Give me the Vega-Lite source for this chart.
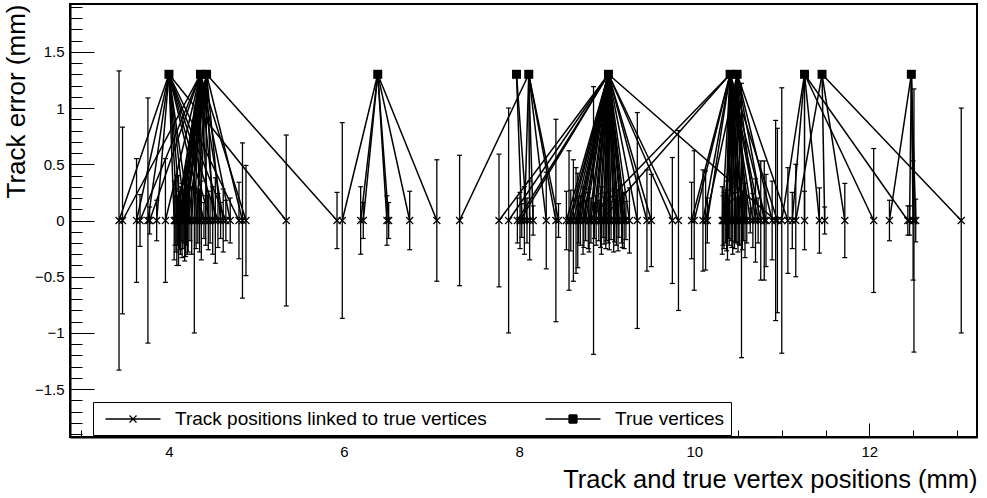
{
  "$schema": "https://vega.github.io/schema/vega-lite/v6.json",
  "width": 907,
  "height": 433,
  "autosize": "none",
  "padding": {"left": 70, "top": 4, "right": 10, "bottom": 61},
  "background": "white",
  "config": {
    "font": "Liberation Sans",
    "view": {"stroke": "black", "strokeWidth": 2},
    "axis": {"grid": false, "labelFont": "Liberation Sans", "titleFont": "Liberation Sans", "labelColor": "black", "titleColor": "black", "titleFontWeight": "normal", "tickColor": "black", "domainColor": "black"},
    "legend": {"labelFont": "Liberation Sans", "labelFontSize": 19, "labelColor": "black"}
  },
  "datasets": {
    "tracks": [
      {"x": 3.43, "lo": -1.33, "hi": 1.33, "v": 4.00, "y": 0, "vy": 1.3},
      {"x": 3.47, "lo": -0.83, "hi": 0.83, "v": 4.36, "y": 0, "vy": 1.3},
      {"x": 3.63, "lo": -0.55, "hi": 0.55, "v": 4.00, "y": 0, "vy": 1.3},
      {"x": 3.67, "lo": -0.23, "hi": 0.23, "v": 4.36, "y": 0, "vy": 1.3},
      {"x": 3.76, "lo": -1.09, "hi": 1.09, "v": 4.00, "y": 0, "vy": 1.3},
      {"x": 3.78, "lo": -0.12, "hi": 0.12, "v": 4.36, "y": 0, "vy": 1.3},
      {"x": 3.86, "lo": -0.18, "hi": 0.18, "v": 4.00, "y": 0, "vy": 1.3},
      {"x": 3.96, "lo": -0.55, "hi": 0.55, "v": 4.36, "y": 0, "vy": 1.3},
      {"x": 4.06, "lo": -0.35, "hi": 0.35, "v": 4.00, "y": 0, "vy": 1.3},
      {"x": 4.07, "lo": -0.22, "hi": 0.22, "v": 4.43, "y": 0, "vy": 1.3},
      {"x": 4.08, "lo": -0.28, "hi": 0.28, "v": 4.36, "y": 0, "vy": 1.3},
      {"x": 4.09, "lo": -0.40, "hi": 0.40, "v": 4.36, "y": 0, "vy": 1.3},
      {"x": 4.10, "lo": -0.22, "hi": 0.22, "v": 4.00, "y": 0, "vy": 1.3},
      {"x": 4.11, "lo": -0.40, "hi": 0.40, "v": 4.43, "y": 0, "vy": 1.3},
      {"x": 4.12, "lo": -0.26, "hi": 0.26, "v": 4.36, "y": 0, "vy": 1.3},
      {"x": 4.13, "lo": -0.30, "hi": 0.30, "v": 4.36, "y": 0, "vy": 1.3},
      {"x": 4.14, "lo": -0.18, "hi": 0.18, "v": 4.00, "y": 0, "vy": 1.3},
      {"x": 4.15, "lo": -0.33, "hi": 0.33, "v": 4.36, "y": 0, "vy": 1.3},
      {"x": 4.16, "lo": -0.25, "hi": 0.25, "v": 4.43, "y": 0, "vy": 1.3},
      {"x": 4.17, "lo": -0.20, "hi": 0.20, "v": 4.36, "y": 0, "vy": 1.3},
      {"x": 4.18, "lo": -0.36, "hi": 0.36, "v": 4.43, "y": 0, "vy": 1.3},
      {"x": 4.19, "lo": -0.32, "hi": 0.32, "v": 4.00, "y": 0, "vy": 1.3},
      {"x": 4.20, "lo": -0.22, "hi": 0.22, "v": 4.36, "y": 0, "vy": 1.3},
      {"x": 4.21, "lo": -0.30, "hi": 0.30, "v": 4.36, "y": 0, "vy": 1.3},
      {"x": 4.22, "lo": -0.28, "hi": 0.28, "v": 4.43, "y": 0, "vy": 1.3},
      {"x": 4.24, "lo": -0.18, "hi": 0.18, "v": 4.00, "y": 0, "vy": 1.3},
      {"x": 4.26, "lo": -0.30, "hi": 0.30, "v": 4.36, "y": 0, "vy": 1.3},
      {"x": 4.29, "lo": -1.00, "hi": 1.00, "v": 4.36, "y": 0, "vy": 1.3},
      {"x": 4.31, "lo": -0.25, "hi": 0.25, "v": 4.43, "y": 0, "vy": 1.3},
      {"x": 4.33, "lo": -0.20, "hi": 0.20, "v": 4.36, "y": 0, "vy": 1.3},
      {"x": 4.35, "lo": -0.28, "hi": 0.28, "v": 4.43, "y": 0, "vy": 1.3},
      {"x": 4.37, "lo": -0.35, "hi": 0.35, "v": 4.36, "y": 0, "vy": 1.3},
      {"x": 4.40, "lo": -0.16, "hi": 0.16, "v": 4.00, "y": 0, "vy": 1.3},
      {"x": 4.42, "lo": -0.22, "hi": 0.22, "v": 4.43, "y": 0, "vy": 1.3},
      {"x": 4.45, "lo": -0.26, "hi": 0.26, "v": 4.36, "y": 0, "vy": 1.3},
      {"x": 4.47, "lo": -0.20, "hi": 0.20, "v": 4.00, "y": 0, "vy": 1.3},
      {"x": 4.50, "lo": -0.30, "hi": 0.30, "v": 4.43, "y": 0, "vy": 1.3},
      {"x": 4.53, "lo": -0.38, "hi": 0.38, "v": 4.36, "y": 0, "vy": 1.3},
      {"x": 4.56, "lo": -0.24, "hi": 0.24, "v": 4.00, "y": 0, "vy": 1.3},
      {"x": 4.59, "lo": -0.16, "hi": 0.16, "v": 4.43, "y": 0, "vy": 1.3},
      {"x": 4.62, "lo": -0.28, "hi": 0.28, "v": 4.36, "y": 0, "vy": 1.3},
      {"x": 4.65, "lo": -0.18, "hi": 0.18, "v": 4.00, "y": 0, "vy": 1.3},
      {"x": 4.70, "lo": -0.20, "hi": 0.20, "v": 4.36, "y": 0, "vy": 1.3},
      {"x": 4.80, "lo": -0.34, "hi": 0.34, "v": 4.00, "y": 0, "vy": 1.3},
      {"x": 4.84, "lo": -0.69, "hi": 0.69, "v": 4.43, "y": 0, "vy": 1.3},
      {"x": 4.88, "lo": -0.49, "hi": 0.49, "v": 4.36, "y": 0, "vy": 1.3},
      {"x": 5.34, "lo": -0.76, "hi": 0.76, "v": 4.00, "y": 0, "vy": 1.3},
      {"x": 5.92, "lo": -0.25, "hi": 0.25, "v": 4.43, "y": 0, "vy": 1.3},
      {"x": 5.98, "lo": -0.87, "hi": 0.87, "v": 6.385, "y": 0, "vy": 1.3},
      {"x": 6.19, "lo": -0.30, "hi": 0.30, "v": 6.385, "y": 0, "vy": 1.3},
      {"x": 6.22, "lo": -0.16, "hi": 0.16, "v": 6.385, "y": 0, "vy": 1.3},
      {"x": 6.49, "lo": -0.22, "hi": 0.22, "v": 6.385, "y": 0, "vy": 1.3},
      {"x": 6.51, "lo": -0.16, "hi": 0.16, "v": 6.385, "y": 0, "vy": 1.3},
      {"x": 6.75, "lo": -0.26, "hi": 0.26, "v": 6.385, "y": 0, "vy": 1.3},
      {"x": 7.06, "lo": -0.54, "hi": 0.54, "v": 6.385, "y": 0, "vy": 1.3},
      {"x": 7.32, "lo": -0.58, "hi": 0.58, "v": 8.11, "y": 0, "vy": 1.3},
      {"x": 7.77, "lo": -0.59, "hi": 0.59, "v": 9.02, "y": 0, "vy": 1.3},
      {"x": 7.88, "lo": -1.00, "hi": 1.00, "v": 9.02, "y": 0, "vy": 1.3},
      {"x": 7.98, "lo": -0.20, "hi": 0.20, "v": 9.02, "y": 0, "vy": 1.3},
      {"x": 8.01, "lo": -0.25, "hi": 0.25, "v": 9.02, "y": 0, "vy": 1.3},
      {"x": 8.03, "lo": -0.15, "hi": 0.15, "v": 7.97, "y": 0, "vy": 1.3},
      {"x": 8.06, "lo": -0.30, "hi": 0.30, "v": 8.11, "y": 0, "vy": 1.3},
      {"x": 8.09, "lo": -0.20, "hi": 0.20, "v": 7.97, "y": 0, "vy": 1.3},
      {"x": 8.12, "lo": -0.35, "hi": 0.35, "v": 8.11, "y": 0, "vy": 1.3},
      {"x": 8.16, "lo": -0.13, "hi": 0.13, "v": 8.11, "y": 0, "vy": 1.3},
      {"x": 8.31, "lo": -0.43, "hi": 0.43, "v": 8.11, "y": 0, "vy": 1.3},
      {"x": 8.42, "lo": -0.90, "hi": 0.90, "v": 8.11, "y": 0, "vy": 1.3},
      {"x": 8.45, "lo": -0.15, "hi": 0.15, "v": 8.11, "y": 0, "vy": 1.3},
      {"x": 8.54, "lo": -0.26, "hi": 0.26, "v": 9.02, "y": 0, "vy": 1.3},
      {"x": 8.57, "lo": -0.62, "hi": 0.62, "v": 9.02, "y": 0, "vy": 1.3},
      {"x": 8.59, "lo": -0.27, "hi": 0.27, "v": 9.02, "y": 0, "vy": 1.3},
      {"x": 8.62, "lo": -0.54, "hi": 0.54, "v": 9.02, "y": 0, "vy": 1.3},
      {"x": 8.65, "lo": -0.47, "hi": 0.47, "v": 9.02, "y": 0, "vy": 1.3},
      {"x": 8.67, "lo": -0.42, "hi": 0.42, "v": 9.02, "y": 0, "vy": 1.3},
      {"x": 8.68, "lo": -0.20, "hi": 0.20, "v": 9.02, "y": 0, "vy": 1.3},
      {"x": 8.70, "lo": -0.22, "hi": 0.22, "v": 9.02, "y": 0, "vy": 1.3},
      {"x": 8.73, "lo": -0.30, "hi": 0.30, "v": 9.02, "y": 0, "vy": 1.3},
      {"x": 8.74, "lo": -0.24, "hi": 0.24, "v": 9.02, "y": 0, "vy": 1.3},
      {"x": 8.76, "lo": -0.18, "hi": 0.18, "v": 9.02, "y": 0, "vy": 1.3},
      {"x": 8.79, "lo": -0.25, "hi": 0.25, "v": 10.41, "y": 0, "vy": 1.3},
      {"x": 8.80, "lo": -0.28, "hi": 0.28, "v": 9.02, "y": 0, "vy": 1.3},
      {"x": 8.82, "lo": -0.20, "hi": 0.20, "v": 9.02, "y": 0, "vy": 1.3},
      {"x": 8.85, "lo": -1.19, "hi": 1.19, "v": 9.02, "y": 0, "vy": 1.3},
      {"x": 8.86, "lo": -0.16, "hi": 0.16, "v": 9.02, "y": 0, "vy": 1.3},
      {"x": 8.88, "lo": -0.22, "hi": 0.22, "v": 9.02, "y": 0, "vy": 1.3},
      {"x": 8.91, "lo": -0.18, "hi": 0.18, "v": 9.02, "y": 0, "vy": 1.3},
      {"x": 8.93, "lo": -0.24, "hi": 0.24, "v": 9.02, "y": 0, "vy": 1.3},
      {"x": 8.94, "lo": -0.30, "hi": 0.30, "v": 10.41, "y": 0, "vy": 1.3},
      {"x": 8.96, "lo": -0.15, "hi": 0.15, "v": 9.02, "y": 0, "vy": 1.3},
      {"x": 8.97, "lo": -0.21, "hi": 0.21, "v": 9.02, "y": 0, "vy": 1.3},
      {"x": 8.99, "lo": -0.25, "hi": 0.25, "v": 9.02, "y": 0, "vy": 1.3},
      {"x": 9.00, "lo": -0.18, "hi": 0.18, "v": 9.02, "y": 0, "vy": 1.3},
      {"x": 9.02, "lo": -0.20, "hi": 0.20, "v": 9.02, "y": 0, "vy": 1.3},
      {"x": 9.03, "lo": -0.26, "hi": 0.26, "v": 9.02, "y": 0, "vy": 1.3},
      {"x": 9.05, "lo": -0.17, "hi": 0.17, "v": 9.02, "y": 0, "vy": 1.3},
      {"x": 9.08, "lo": -0.28, "hi": 0.28, "v": 9.02, "y": 0, "vy": 1.3},
      {"x": 9.09, "lo": -0.19, "hi": 0.19, "v": 9.02, "y": 0, "vy": 1.3},
      {"x": 9.11, "lo": -0.22, "hi": 0.22, "v": 9.02, "y": 0, "vy": 1.3},
      {"x": 9.13, "lo": -0.27, "hi": 0.27, "v": 9.02, "y": 0, "vy": 1.3},
      {"x": 9.14, "lo": -0.15, "hi": 0.15, "v": 9.02, "y": 0, "vy": 1.3},
      {"x": 9.17, "lo": -0.20, "hi": 0.20, "v": 9.02, "y": 0, "vy": 1.3},
      {"x": 9.18, "lo": -0.24, "hi": 0.24, "v": 9.02, "y": 0, "vy": 1.3},
      {"x": 9.20, "lo": -0.25, "hi": 0.25, "v": 9.02, "y": 0, "vy": 1.3},
      {"x": 9.22, "lo": -0.17, "hi": 0.17, "v": 9.02, "y": 0, "vy": 1.3},
      {"x": 9.26, "lo": -0.29, "hi": 0.29, "v": 9.02, "y": 0, "vy": 1.3},
      {"x": 9.35, "lo": -0.96, "hi": 0.96, "v": 9.02, "y": 0, "vy": 1.3},
      {"x": 9.46, "lo": -0.45, "hi": 0.45, "v": 9.02, "y": 0, "vy": 1.3},
      {"x": 9.51, "lo": -0.41, "hi": 0.41, "v": 9.02, "y": 0, "vy": 1.3},
      {"x": 9.75, "lo": -0.56, "hi": 0.56, "v": 9.02, "y": 0, "vy": 1.3},
      {"x": 9.82, "lo": -0.80, "hi": 0.80, "v": 9.02, "y": 0, "vy": 1.3},
      {"x": 9.97, "lo": -0.34, "hi": 0.34, "v": 10.41, "y": 0, "vy": 1.3},
      {"x": 10.00, "lo": -0.62, "hi": 0.62, "v": 10.41, "y": 0, "vy": 1.3},
      {"x": 10.10, "lo": -0.45, "hi": 0.45, "v": 10.41, "y": 0, "vy": 1.3},
      {"x": 10.13, "lo": -0.44, "hi": 0.44, "v": 10.49, "y": 0, "vy": 1.3},
      {"x": 10.15, "lo": -0.20, "hi": 0.20, "v": 10.41, "y": 0, "vy": 1.3},
      {"x": 10.32, "lo": -0.30, "hi": 0.30, "v": 10.41, "y": 0, "vy": 1.3},
      {"x": 10.33, "lo": -0.22, "hi": 0.22, "v": 10.49, "y": 0, "vy": 1.3},
      {"x": 10.34, "lo": -0.25, "hi": 0.25, "v": 10.49, "y": 0, "vy": 1.3},
      {"x": 10.36, "lo": -0.20, "hi": 0.20, "v": 10.41, "y": 0, "vy": 1.3},
      {"x": 10.37, "lo": -0.27, "hi": 0.27, "v": 10.41, "y": 0, "vy": 1.3},
      {"x": 10.38, "lo": -0.35, "hi": 0.35, "v": 10.49, "y": 0, "vy": 1.3},
      {"x": 10.39, "lo": -0.16, "hi": 0.16, "v": 10.49, "y": 0, "vy": 1.3},
      {"x": 10.40, "lo": -0.22, "hi": 0.22, "v": 10.41, "y": 0, "vy": 1.3},
      {"x": 10.42, "lo": -0.18, "hi": 0.18, "v": 10.49, "y": 0, "vy": 1.3},
      {"x": 10.43, "lo": -0.24, "hi": 0.24, "v": 10.41, "y": 0, "vy": 1.3},
      {"x": 10.44, "lo": -0.30, "hi": 0.30, "v": 10.41, "y": 0, "vy": 1.3},
      {"x": 10.46, "lo": -0.25, "hi": 0.25, "v": 10.49, "y": 0, "vy": 1.3},
      {"x": 10.47, "lo": -0.19, "hi": 0.19, "v": 10.41, "y": 0, "vy": 1.3},
      {"x": 10.48, "lo": -0.20, "hi": 0.20, "v": 10.41, "y": 0, "vy": 1.3},
      {"x": 10.50, "lo": -0.28, "hi": 0.28, "v": 10.49, "y": 0, "vy": 1.3},
      {"x": 10.51, "lo": -0.21, "hi": 0.21, "v": 10.41, "y": 0, "vy": 1.3},
      {"x": 10.52, "lo": -0.22, "hi": 0.22, "v": 10.41, "y": 0, "vy": 1.3},
      {"x": 10.54, "lo": -1.22, "hi": 1.22, "v": 10.49, "y": 0, "vy": 1.3},
      {"x": 10.55, "lo": -0.26, "hi": 0.26, "v": 10.41, "y": 0, "vy": 1.3},
      {"x": 10.56, "lo": -0.18, "hi": 0.18, "v": 10.41, "y": 0, "vy": 1.3},
      {"x": 10.58, "lo": -0.33, "hi": 0.33, "v": 10.49, "y": 0, "vy": 1.3},
      {"x": 10.60, "lo": -0.20, "hi": 0.20, "v": 10.49, "y": 0, "vy": 1.3},
      {"x": 10.64, "lo": -0.11, "hi": 0.11, "v": 10.41, "y": 0, "vy": 1.3},
      {"x": 10.67, "lo": -0.24, "hi": 0.24, "v": 10.41, "y": 0, "vy": 1.3},
      {"x": 10.70, "lo": -0.37, "hi": 0.37, "v": 10.49, "y": 0, "vy": 1.3},
      {"x": 10.73, "lo": -0.20, "hi": 0.20, "v": 10.41, "y": 0, "vy": 1.3},
      {"x": 10.76, "lo": -0.53, "hi": 0.53, "v": 10.41, "y": 0, "vy": 1.3},
      {"x": 10.80, "lo": -0.53, "hi": 0.53, "v": 10.49, "y": 0, "vy": 1.3},
      {"x": 10.82, "lo": -0.41, "hi": 0.41, "v": 10.41, "y": 0, "vy": 1.3},
      {"x": 10.89, "lo": -0.35, "hi": 0.35, "v": 10.49, "y": 0, "vy": 1.3},
      {"x": 10.93, "lo": -0.89, "hi": 0.89, "v": 9.02, "y": 0, "vy": 1.3},
      {"x": 10.95, "lo": -0.82, "hi": 0.82, "v": 10.41, "y": 0, "vy": 1.3},
      {"x": 11.00, "lo": -1.18, "hi": 1.18, "v": 11.26, "y": 0, "vy": 1.3},
      {"x": 11.07, "lo": -0.47, "hi": 0.47, "v": 10.49, "y": 0, "vy": 1.3},
      {"x": 11.12, "lo": -0.25, "hi": 0.25, "v": 11.26, "y": 0, "vy": 1.3},
      {"x": 11.16, "lo": -0.50, "hi": 0.50, "v": 11.46, "y": 0, "vy": 1.3},
      {"x": 11.26, "lo": -0.26, "hi": 0.26, "v": 11.26, "y": 0, "vy": 1.3},
      {"x": 11.43, "lo": -0.29, "hi": 0.29, "v": 11.26, "y": 0, "vy": 1.3},
      {"x": 11.49, "lo": -0.12, "hi": 0.12, "v": 11.46, "y": 0, "vy": 1.3},
      {"x": 11.72, "lo": -0.33, "hi": 0.33, "v": 11.46, "y": 0, "vy": 1.3},
      {"x": 12.05, "lo": -0.64, "hi": 0.64, "v": 11.26, "y": 0, "vy": 1.3},
      {"x": 12.23, "lo": -0.18, "hi": 0.18, "v": 12.48, "y": 0, "vy": 1.3},
      {"x": 12.44, "lo": -0.13, "hi": 0.13, "v": 11.26, "y": 0, "vy": 1.3},
      {"x": 12.46, "lo": -0.13, "hi": 0.13, "v": 12.48, "y": 0, "vy": 1.3},
      {"x": 12.50, "lo": -0.53, "hi": 0.53, "v": 12.48, "y": 0, "vy": 1.3},
      {"x": 12.51, "lo": -1.17, "hi": 1.17, "v": 12.48, "y": 0, "vy": 1.3},
      {"x": 12.53, "lo": -0.19, "hi": 0.19, "v": 12.48, "y": 0, "vy": 1.3},
      {"x": 13.05, "lo": -1.00, "hi": 1.00, "v": 11.46, "y": 0, "vy": 1.3}
    ],
    "vertices": [
      {"x": 4.00, "y": 1.3}, {"x": 4.36, "y": 1.3}, {"x": 4.43, "y": 1.3},
      {"x": 6.385, "y": 1.3}, {"x": 7.97, "y": 1.3}, {"x": 8.11, "y": 1.3},
      {"x": 9.02, "y": 1.3}, {"x": 10.41, "y": 1.3}, {"x": 10.49, "y": 1.3},
      {"x": 11.26, "y": 1.3}, {"x": 11.46, "y": 1.3}, {"x": 12.48, "y": 1.3}
    ],
    "legendrows": [
      {"s": "Track positions linked to true vertices"},
      {"s": "True vertices"}
    ]
  },
  "resolve": {"axis": {"x": "independent", "y": "independent"}},
  "layer": [
    {
      "data": {"name": "tracks"},
      "mark": {"type": "rule", "color": "black", "strokeWidth": 1.5},
      "encoding": {
        "x": {"field": "v", "type": "quantitative", "scale": {"domain": [2.87, 13.23], "nice": false, "zero": false},
              "axis": {"orient": "bottom", "values": [4, 6, 8, 10, 12], "ticks": false, "domain": true, "domainWidth": 2, "labelFontSize": 15, "labelPadding": 7, "title": "Track and true vertex positions (mm)", "titleAnchor": "end", "titleFontSize": 25.5, "titlePadding": 8}},
        "y": {"field": "vy", "type": "quantitative", "scale": {"domain": [-1.925, 1.925], "nice": false, "zero": false},
              "axis": {"orient": "left", "values": [-1.5, -1, -0.5, 0, 0.5, 1, 1.5], "format": "~g", "ticks": false, "domain": true, "domainWidth": 2, "labelFontSize": 15, "labelPadding": 6, "title": "Track error (mm)", "titleAnchor": "end", "titleFontSize": 26, "titlePadding": 5}},
        "x2": {"field": "x"},
        "y2": {"field": "y"}
      }
    },
    {
      "data": {"name": "tracks"},
      "mark": {"type": "rule", "color": "black", "strokeWidth": 1.3},
      "encoding": {
        "x": {"field": "x", "type": "quantitative",
              "axis": {"orient": "bottom", "values": [4, 6, 8, 10, 12], "labels": false, "domain": false, "ticks": true, "tickSize": -14, "tickWidth": 1, "title": null}},
        "y": {"field": "lo", "type": "quantitative",
              "axis": {"orient": "left", "values": [-1.5, -1, -0.5, 0, 0.5, 1, 1.5], "labels": false, "domain": false, "ticks": true, "tickSize": -24, "tickWidth": 1, "title": null}},
        "y2": {"field": "hi"}
      }
    },
    {
      "data": {"name": "tracks"},
      "mark": {"type": "tick", "orient": "horizontal", "size": 5, "thickness": 1.2, "color": "black", "opacity": 1},
      "encoding": {
        "x": {"field": "x", "type": "quantitative", "axis": null},
        "y": {"field": "lo", "type": "quantitative", "axis": null}
      }
    },
    {
      "data": {"name": "tracks"},
      "mark": {"type": "tick", "orient": "horizontal", "size": 5, "thickness": 1.2, "color": "black", "opacity": 1},
      "encoding": {
        "x": {"field": "x", "type": "quantitative", "axis": null},
        "y": {"field": "hi", "type": "quantitative", "axis": null}
      }
    },
    {
      "data": {"name": "tracks"},
      "mark": {"type": "point", "shape": "M-1,-1L1,1M-1,1L1,-1", "size": 49, "filled": false, "stroke": "black", "strokeWidth": 1.2, "opacity": 1},
      "encoding": {
        "x": {"field": "x", "type": "quantitative",
              "axis": {"orient": "bottom", "values": [3, 3.5, 4.5, 5, 5.5, 6.5, 7, 7.5, 8.5, 9, 9.5, 10.5, 11, 11.5, 12.5, 13], "labels": false, "domain": false, "ticks": true, "tickSize": -7, "tickWidth": 1, "title": null}},
        "y": {"field": "y", "type": "quantitative",
              "axis": {"orient": "left", "values": [-1.9, -1.8, -1.7, -1.6, -1.4, -1.3, -1.2, -1.1, -0.9, -0.8, -0.7, -0.6, -0.4, -0.3, -0.2, -0.1, 0.1, 0.2, 0.3, 0.4, 0.6, 0.7, 0.8, 0.9, 1.1, 1.2, 1.3, 1.4, 1.6, 1.7, 1.8, 1.9], "labels": false, "domain": false, "ticks": true, "tickSize": -12, "tickWidth": 1, "title": null}}
      }
    },
    {
      "data": {"name": "vertices"},
      "mark": {"type": "point", "shape": "square", "size": 81, "filled": true, "color": "black", "opacity": 1},
      "encoding": {
        "x": {"field": "x", "type": "quantitative", "axis": null},
        "y": {"field": "y", "type": "quantitative", "axis": null}
      }
    },
    {
      "data": {"name": "legendrows"},
      "transform": [{"filter": "datum.s == 'none'"}],
      "mark": {"type": "point", "filled": false, "color": "black", "opacity": 1, "strokeWidth": 1.3},
      "encoding": {
        "shape": {"field": "s", "type": "nominal",
          "scale": {"domain": ["Track positions linked to true vertices", "True vertices"],
                    "range": ["M-2.75,0L2.75,0M-0.35,-0.35L0.35,0.35M-0.35,0.35L0.35,-0.35", "M-2.75,0L2.75,0M-0.4,-0.4H0.4M-0.4,-0.3H0.4M-0.4,-0.2H0.4M-0.4,-0.1H0.4M-0.4,0H0.4M-0.4,0.1H0.4M-0.4,0.2H0.4M-0.4,0.3H0.4M-0.4,0.4H0.4M-0.4,-0.4V0.4M0.4,-0.4V0.4"]},
          "legend": {"title": null, "orient": "none", "legendX": 23, "legendY": 398, "direction": "horizontal", "padding": 6, "strokeColor": "black", "fillColor": "white", "symbolSize": 400, "symbolOffset": 23, "labelOffset": 31, "columnPadding": 52, "symbolStrokeColor": "black", "symbolStrokeWidth": 1.3, "labelLimit": 0}}
      }
    }
  ]
}
